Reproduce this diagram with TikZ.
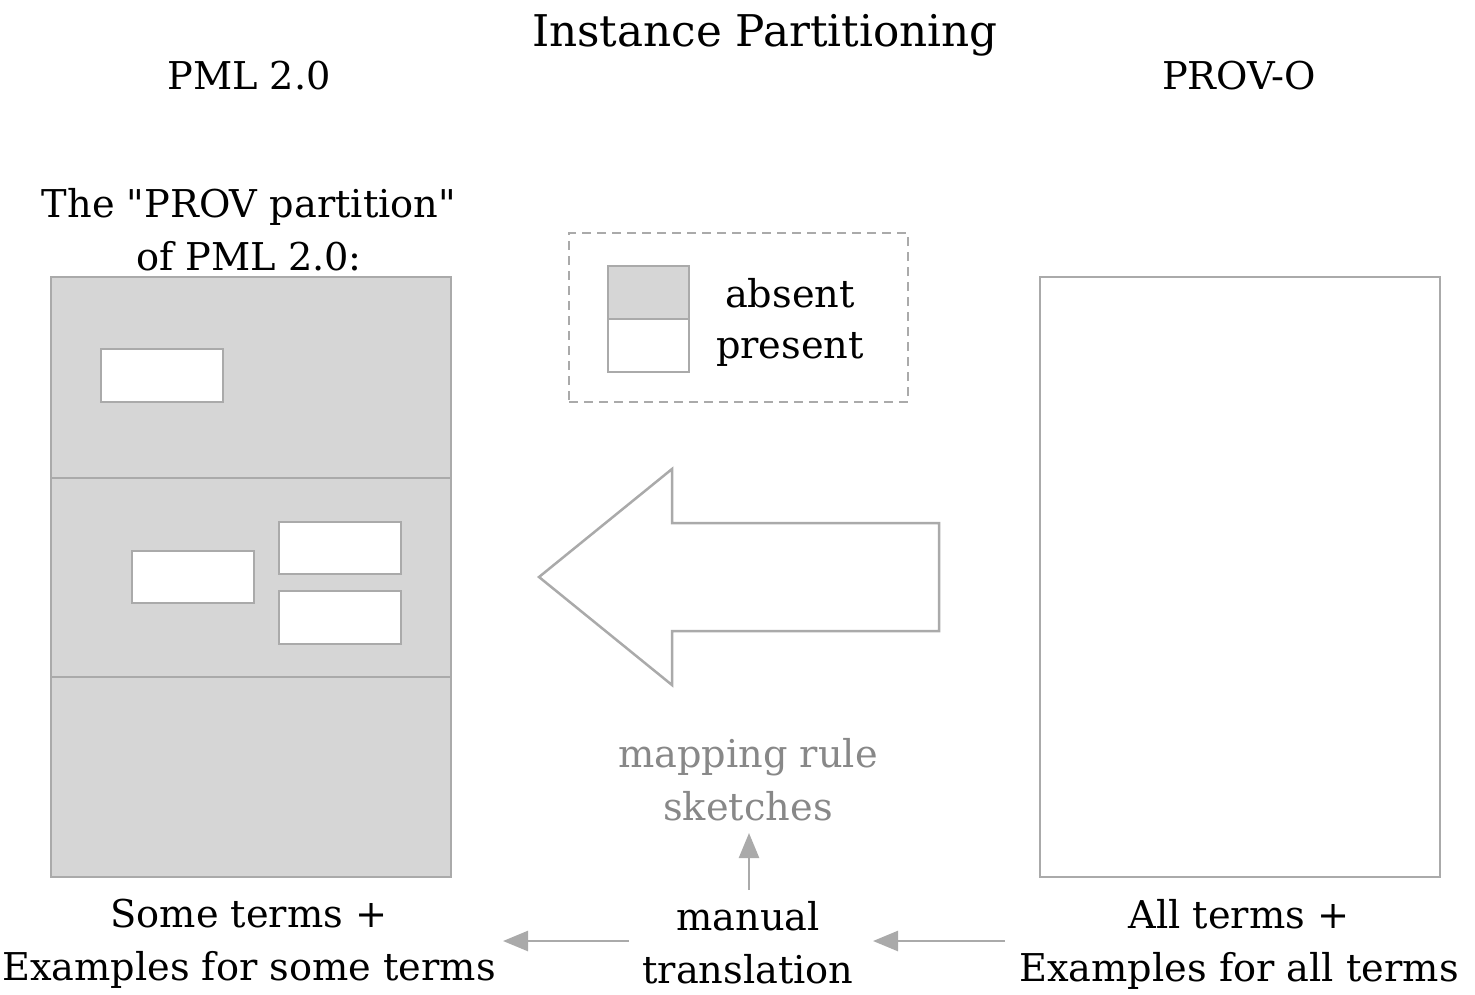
\documentclass[tikz,border=0pt]{standalone}
\usepackage{fontspec}
\setmainfont{DejaVu Serif}
\newfontfamily\plainq{DejaVu Serif}
\usetikzlibrary{arrows.meta}
\definecolor{edge}{HTML}{AAAAAA}
\definecolor{absentfill}{HTML}{D6D6D6}
\definecolor{softtext}{HTML}{888888}
\newcommand{\sq}{{\plainq"}}
\tikzset{
  body/.style={font=\fontsize{38.3}{53}\selectfont, align=center, inner sep=0pt},
  titletext/.style={font=\fontsize{43.7}{55}\selectfont, inner sep=0pt},
  panel/.style={draw=edge, line width=2.5pt},
  absentbox/.style={panel, fill=absentfill},
  presentbox/.style={panel, fill=white},
  legendframe/.style={draw=edge, line width=2.5pt, dash pattern=on 9pt off 6pt},
  flow/.style={draw=edge, line width=2.5pt, -{Triangle[length=25pt,width=20pt]}},
}
\begin{document}
\begin{tikzpicture}[x=1pt,y=-1pt]
\useasboundingbox (0,0) rectangle (1475,994);
% titles
\node[titletext] (title) at (765,35) {Instance Partitioning};
\node[body] (pml) at (249,76) {PML 2.0};
\node[body] (provo) at (1239,76) {PROV-O};
\node[body] (partition) at (249,230) {The \sq PROV partition\sq\\of PML 2.0:};
% left panel
\draw[absentbox] (51,277) rectangle (451,478);
\draw[absentbox] (51,478) rectangle (451,677);
\draw[absentbox] (51,677) rectangle (451,877);
\node[presentbox, minimum width=122pt, minimum height=53pt, inner sep=0pt] (s1) at (162,375.5) {};
\node[presentbox, minimum width=122pt, minimum height=52pt, inner sep=0pt] (s2) at (193,577) {};
\node[presentbox, minimum width=122pt, minimum height=52pt, inner sep=0pt] (s3) at (340,548) {};
\node[presentbox, minimum width=122pt, minimum height=53pt, inner sep=0pt] (s4) at (340,617.5) {};
% right panel
\node[presentbox, minimum width=400pt, minimum height=600pt, inner sep=0pt] (right) at (1240,577) {};
% legend
\node[legendframe, minimum width=339pt, minimum height=169pt, inner sep=0pt] (legend) at (738.5,317.5) {};
\draw[absentbox] (608,266) rectangle (689,319);
\draw[presentbox] (608,319) rectangle (689,372);
\node[body, anchor=base] (absent) at (790,307) {absent};
\node[body, anchor=base] (present) at (790,358) {present};
% big arrow
\draw[panel, fill=white, line join=miter] (539,577) -- (672,469) -- (672,523) -- (939,523) -- (939,631) -- (672,631) -- (672,685) -- cycle;
% labels
\node[body, text=softtext] (mapping) at (748,780) {mapping rule\\sketches};
\node[body] (manual) at (748,943) {manual\\translation};
\node[body] (some) at (249,944) {Some terms +\\Examples for some terms};
\node[body] (all) at (1239,944) {All terms +\\Examples for all terms};
% connectors
\coordinate (mt) at (749,890);
\coordinate (ms) at (749,833);
\draw[flow] (mt) -- (ms);
\coordinate (r1) at (1005,941);
\coordinate (r2) at (873,941);
\draw[flow] (r1) -- (r2);
\coordinate (l1) at (629,941);
\coordinate (l2) at (503,941);
\draw[flow] (l1) -- (l2);
\end{tikzpicture}
\end{document}
